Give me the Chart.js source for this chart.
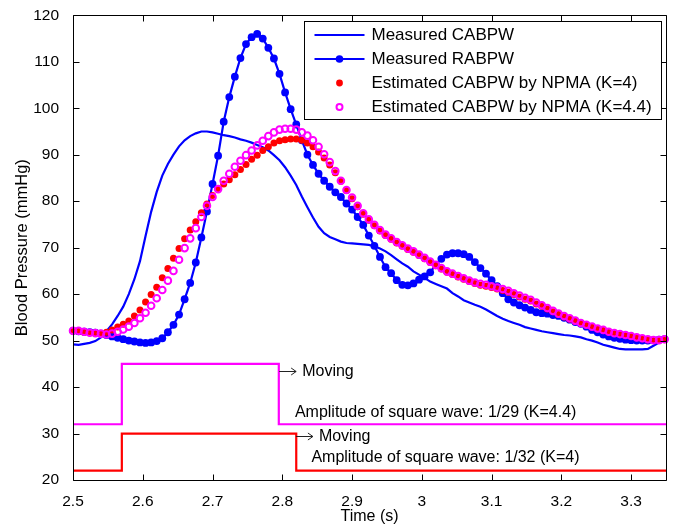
<!DOCTYPE html>
<html><head><meta charset="utf-8">
<script src="https://cdn.jsdelivr.net/npm/chart.js@4.4.0/dist/chart.umd.min.js"></script>
<style>html,body{margin:0;padding:0;background:#fff;}canvas{display:block;}</style>
</head><body>
<canvas id="c" width="678" height="529" style="width:678px;height:529px"></canvas>
<script>
// ---- data ----
const timeS = [2.500,2.508,2.516,2.524,2.532,2.540,2.548,2.556,2.564,2.572,2.580,2.588,2.596,2.604,2.612,2.620,2.628,2.636,2.644,2.652,2.660,2.668,2.676,2.684,2.692,2.700,2.708,2.716,2.724,2.732,2.740,2.748,2.756,2.764,2.772,2.780,2.788,2.796,2.804,2.812,2.820,2.828,2.836,2.844,2.852,2.860,2.868,2.876,2.884,2.892,2.900,2.908,2.916,2.924,2.932,2.940,2.948,2.956,2.964,2.972,2.980,2.988,2.996,3.004,3.012,3.020,3.028,3.036,3.044,3.052,3.060,3.068,3.076,3.084,3.092,3.100,3.108,3.116,3.124,3.132,3.140,3.148,3.156,3.164,3.172,3.180,3.188,3.196,3.204,3.212,3.220,3.228,3.236,3.244,3.252,3.260,3.268,3.276,3.284,3.292,3.300,3.308,3.316,3.324,3.332,3.340,3.348];

const measuredCABPW = [49.2,49.1,49.3,49.5,49.9,50.7,52.0,53.5,55.3,57.3,
 60.0,63.2,67.1,72.5,77.7,82.0,85.5,88.0,90.0,91.8,
 93.1,94.0,94.6,95.0,95.0,94.8,94.5,94.2,94.0,93.7,
 93.3,93.0,92.6,92.1,91.6,90.9,89.9,88.8,87.3,85.5,
 83.5,81.0,78.7,76.5,74.5,73.1,72.3,71.8,71.3,71.0,
 70.9,70.8,70.7,70.6,70.3,69.8,69.2,68.4,67.5,66.6,
 65.9,64.9,64.2,63.5,62.7,62.2,61.7,61.2,60.2,59.5,
 58.7,58.2,57.7,57.3,56.7,56.0,55.3,54.7,54.2,53.8,
 53.4,52.9,52.6,52.3,52.0,51.8,51.6,51.4,51.2,51.1,
 50.9,50.7,50.3,50.0,49.6,49.1,48.8,48.5,48.2,48.1,
 48.1,48.1,48.1,48.2,48.9,49.6,50.3];

const measuredRABPW = [52.1,52.0,51.9,51.8,51.7,51.5,51.2,50.9,50.6,50.3,
 50.0,49.8,49.6,49.5,49.6,49.9,50.5,51.8,53.4,55.6,
 58.9,62.4,66.8,72.2,77.8,83.7,89.8,97.1,102.4,106.8,
 110.8,113.8,115.3,116.0,115.0,113.0,110.7,107.4,103.4,99.8,
 96.5,93.1,90.0,87.8,85.9,84.4,83.1,81.9,80.9,79.5,
 78.2,76.6,74.9,72.6,70.4,68.0,65.8,64.5,63.0,62.0,
 61.9,62.3,63.1,63.8,64.7,66.3,67.6,68.5,68.8,68.8,
 68.6,68.0,66.9,65.6,64.4,63.0,61.7,60.2,58.9,58.2,
 57.6,57.1,56.6,56.1,55.9,55.8,55.5,55.3,54.9,54.5,
 54.0,53.6,53.0,52.3,51.8,51.3,50.9,50.6,50.4,50.2,
 50.1,50.0,50.0,50.0,50.1,50.2,50.3];

const estimatedK4 = [52.0,52.0,51.8,51.7,51.6,51.5,51.8,52.3,52.9,53.5,
 54.2,55.3,56.6,58.3,59.9,61.5,63.5,65.5,67.7,69.8,
 71.9,73.8,75.6,77.5,79.4,81.2,82.6,83.7,84.6,85.7,
 86.8,87.9,89.0,89.9,90.9,91.7,92.5,93.0,93.2,93.4,
 93.4,93.1,92.5,91.7,90.6,89.3,87.8,86.1,84.3,82.3,
 80.5,78.8,77.2,75.9,74.7,73.6,72.6,71.8,71.0,70.3,
 69.6,69.0,68.3,67.6,66.8,66.1,65.4,64.7,64.2,63.7,
 63.2,62.7,62.3,61.9,61.7,61.4,61.1,60.8,60.4,59.9,
 59.4,58.9,58.5,57.9,57.4,56.8,56.2,55.6,55.1,54.6,
 54.1,53.7,53.3,52.9,52.5,52.2,51.8,51.5,51.3,51.1,
 50.9,50.6,50.4,50.2,50.0,50.0,50.2];

const estimatedK44 = [52.1,52.1,51.9,51.7,51.6,51.5,51.3,51.5,51.9,52.4,
 53.0,53.8,54.8,56.0,57.5,59.1,60.9,62.9,65.0,67.4,
 69.9,72.0,74.2,76.6,79.0,80.9,82.6,84.4,85.9,87.4,
 88.7,89.9,90.9,92.0,93.0,94.0,94.8,95.4,95.6,95.6,
 95.4,94.8,94.1,93.1,91.7,90.1,88.4,86.5,84.4,82.4,
 80.8,79.0,77.4,76.1,74.9,73.8,72.8,72.0,71.2,70.5,
 69.8,69.2,68.5,67.8,67.0,66.3,65.6,64.9,64.4,63.9,
 63.4,62.9,62.5,62.2,62.0,61.7,61.4,61.1,60.7,60.2,
 59.7,59.2,58.8,58.2,57.6,57.0,56.4,55.8,55.3,54.8,
 54.3,53.8,53.4,53.0,52.6,52.3,51.9,51.6,51.4,51.2,
 51.0,50.7,50.5,50.3,50.1,50.1,50.3];

const squareK44Time  = [2.5, 2.57, 2.57, 2.795, 2.795, 3.35];
const squareK44Value = [32, 32, 45, 45, 32, 32];
const squareK4Time   = [2.5, 2.57, 2.57, 2.82, 2.82, 3.35];
const squareK4Value  = [22, 22, 30, 30, 22, 22];

const xTickValues = [2.5,2.6,2.7,2.8,2.9,3.0,3.1,3.2,3.3];
const xTickLabels = ['2.5','2.6','2.7','2.8','2.9','3','3.1','3.2','3.3'];
const yTickValues = [20,30,40,50,60,70,80,90,100,110,120];
const yTickLabels = ['20','30','40','50','60','70','80','90','100','110','120'];

const legendLabels = ['Measured CABPW','Measured RABPW','Estimated CABPW by NPMA (K=4)','Estimated CABPW by NPMA (K=4.4)'];
// annotations: text anchored at (time, mmHg); arrow drawn before text when set
const annotations = [
  {text:'Moving', x:2.7955, y:43.5, arrow:true},
  {text:'Amplitude of square wave: 1/29 (K=4.4)', x:2.8181, y:34.7, arrow:false},
  {text:'Moving', x:2.8195, y:29.5, arrow:true},
  {text:'Amplitude of square wave: 1/32 (K=4)', x:2.8417, y:24.9, arrow:false}
];

const FONT = '"Liberation Sans", Arial, Helvetica, sans-serif';
const BLUE = '#0000ff', RED = '#ff0000', MAG = '#ff00ff';

function pts(xs, ys){ return xs.map((t,i)=>({x:t, y:ys[i]})); }

const framePlugin = {
  id:'frame',
  afterDatasetsDraw(chart){
    const {ctx, chartArea:a, scales:{x, y}} = chart;
    ctx.save();
    ctx.strokeStyle = '#000'; ctx.lineWidth = 1;
    const L = Math.round(a.left)+0.5, R = Math.round(a.right)+0.5, T = Math.round(a.top)+0.5, B = Math.round(a.bottom)+0.5;
    ctx.beginPath();
    ctx.moveTo(L,T); ctx.lineTo(R,T); ctx.lineTo(R,B); ctx.lineTo(L,B); ctx.closePath();
    x.ticks.forEach(t=>{ const p = Math.round(x.getPixelForValue(t.value))+0.5;
      ctx.moveTo(p,B); ctx.lineTo(p,B-6); ctx.moveTo(p,T); ctx.lineTo(p,T+6); });
    y.ticks.forEach(t=>{ const p = Math.round(y.getPixelForValue(t.value))+0.5;
      ctx.moveTo(L,p); ctx.lineTo(L+6,p); ctx.moveTo(R,p); ctx.lineTo(R-6,p); });
    ctx.stroke();
    ctx.restore();
  },
  afterDraw(chart){
    const {ctx, chartArea:a, scales:{x, y}} = chart;
    ctx.save();
    // annotations
    ctx.font = '16px ' + FONT; ctx.fillStyle = '#000'; ctx.textBaseline = 'middle'; ctx.textAlign = 'left';
    annotations.forEach(an=>{
      let px = x.getPixelForValue(an.x), py = Math.round(y.getPixelForValue(an.y))+0.5;
      if (an.arrow){
        ctx.strokeStyle = '#222'; ctx.lineWidth = 1;
        ctx.beginPath(); ctx.moveTo(px, py); ctx.lineTo(px+17, py);
        ctx.moveTo(px+12, py-3.5); ctx.lineTo(px+17, py); ctx.lineTo(px+12, py+3.5); ctx.stroke();
        px += 23;
      }
      ctx.fillText(an.text, px, py);
    });
    // legend box
    const bx = Math.round(a.right) - 361.5, by = 21.5, bw = 357, bh = 98;
    ctx.fillStyle = '#fff'; ctx.fillRect(bx, by, bw, bh);
    ctx.strokeStyle = '#000'; ctx.lineWidth = 1; ctx.strokeRect(bx, by, bw, bh);
    const rows = [35, 59, 83, 107];
    const lx1 = bx + 10, lx2 = bx + 60, lxc = bx + 35, tx = bx + 67;
    ctx.strokeStyle = BLUE; ctx.lineWidth = 2;
    ctx.beginPath(); ctx.moveTo(lx1, rows[0]); ctx.lineTo(lx2, rows[0]); ctx.stroke();
    ctx.beginPath(); ctx.moveTo(lx1, rows[1]); ctx.lineTo(lx2, rows[1]); ctx.stroke();
    ctx.fillStyle = BLUE; ctx.beginPath(); ctx.arc(lxc, rows[1], 3.8, 0, Math.PI*2); ctx.fill();
    ctx.fillStyle = RED; ctx.beginPath(); ctx.arc(lxc, rows[2], 3.4, 0, Math.PI*2); ctx.fill();
    ctx.strokeStyle = MAG; ctx.lineWidth = 2; ctx.beginPath(); ctx.arc(lxc, rows[3], 3.0, 0, Math.PI*2); ctx.stroke();
    ctx.fillStyle = '#000'; ctx.font = '17px ' + FONT; ctx.textBaseline = 'middle';
    legendLabels.forEach((s,i)=> ctx.fillText(s, tx, rows[i]));
    ctx.restore();
  }
};

new Chart(document.getElementById('c'), {
  type: 'line',
  data: {
    datasets: [
      { label: legendLabels[3], data: pts(timeS, estimatedK44), showLine:false, pointStyle:'circle',
        pointRadius:3.3, pointBorderWidth:2, pointBorderColor:MAG, pointBackgroundColor:'rgba(0,0,0,0)', order:0, clip:false },
      { label: legendLabels[2], data: pts(timeS, estimatedK4), showLine:false, pointStyle:'circle',
        pointRadius:3.5, pointBorderWidth:0, pointBackgroundColor:RED, pointBorderColor:RED, order:1, clip:false },
      { label: legendLabels[1], data: pts(timeS, measuredRABPW), borderColor:BLUE, borderWidth:2.2, tension:0,
        pointRadius:3.9, pointBorderWidth:0, pointBackgroundColor:BLUE, pointBorderColor:BLUE, order:2, clip:false },
      { label: legendLabels[0], data: pts(timeS, measuredCABPW), borderColor:BLUE, borderWidth:2.2, tension:0,
        pointRadius:0, order:3, clip:false },
      { label: 'square K4.4', data: pts(squareK44Time, squareK44Value), borderColor:MAG, borderWidth:2.2,
        pointRadius:0, order:4, clip:false },
      { label: 'square K4', data: pts(squareK4Time, squareK4Value), borderColor:RED, borderWidth:2.2,
        pointRadius:0, order:5, clip:false }
    ]
  },
  options: {
    responsive:false, animation:false, devicePixelRatio:1,
    layout:{ padding:{ left:0, right:12, top:12, bottom:0 } },
    plugins:{ legend:{display:false}, tooltip:{enabled:false} },
    scales:{
      x:{ type:'linear', min:2.5, max:3.35,
        afterBuildTicks(s){ s.ticks = xTickValues.map(v=>({value:v})); },
        afterFit(s){ s.height = 49; },
        grid:{ display:false }, border:{ display:false },
        ticks:{ autoSkip:false, maxRotation:0, padding:4, color:'#000', font:{family:FONT, size:15.5},
          callback:(v,i)=>xTickLabels[i] },
        title:{ display:true, text:'Time (s)', color:'#000', font:{family:FONT, size:16}, padding:{top:0,bottom:3} }
      },
      y:{ type:'linear', min:20, max:120,
        afterBuildTicks(s){ s.ticks = yTickValues.map(v=>({value:v})); },
        afterFit(s){ s.width = 73; },
        grid:{ display:false }, border:{ display:false },
        ticks:{ autoSkip:false, padding:6, color:'#000', font:{family:FONT, size:15.5},
          callback:(v,i)=>yTickLabels[i] },
        title:{ display:true, text:'Blood Pressure (mmHg)', color:'#000', font:{family:FONT, size:16.5}, padding:{top:13,bottom:0} }
      }
    }
  },
  plugins:[framePlugin]
});
</script>
</body></html>
